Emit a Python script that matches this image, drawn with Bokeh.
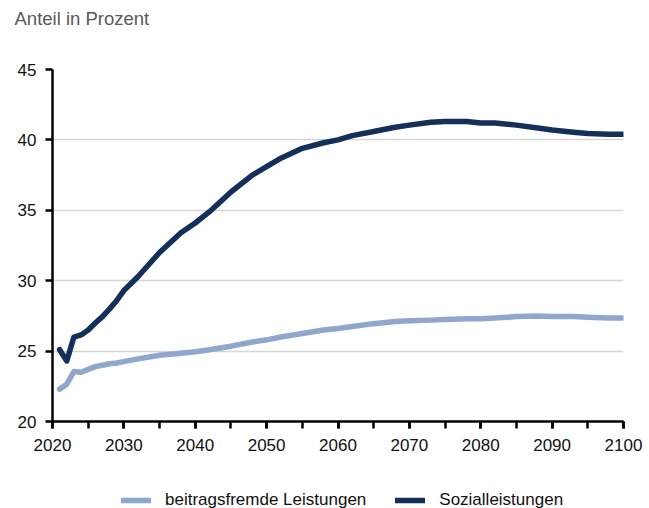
from bokeh.plotting import figure
from bokeh.models import Range1d, Legend, LegendItem, FixedTicker
from bokeh.layouts import column
from bokeh.embed import file_html
from bokeh.resources import INLINE

years = [2021, 2022, 2023, 2024, 2025, 2026, 2027, 2028, 2029, 2030,
         2032, 2035, 2038, 2040, 2042, 2045, 2048, 2050, 2052, 2055, 2058,
         2060, 2062, 2065, 2068, 2070, 2073, 2075, 2078, 2080, 2082, 2085,
         2088, 2090, 2093, 2095, 2098, 2100]

sozialleistungen = [25.1, 24.3, 26.0, 26.15, 26.5, 27.0, 27.45, 28.0, 28.6, 29.3,
                    30.3, 32.0, 33.4, 34.1, 34.9, 36.3, 37.5, 38.1, 38.7, 39.4, 39.8,
                    40.0, 40.3, 40.6, 40.9, 41.05, 41.25, 41.3, 41.3, 41.2, 41.2, 41.05,
                    40.85, 40.7, 40.55, 40.45, 40.4, 40.4]

beitragsfremde = [22.3, 22.65, 23.55, 23.5, 23.7, 23.9, 24.0, 24.1, 24.15, 24.25,
                  24.45, 24.7, 24.85, 24.95, 25.1, 25.35, 25.65, 25.8, 26.0, 26.25, 26.5,
                  26.6, 26.75, 26.95, 27.1, 27.15, 27.2, 27.25, 27.3, 27.3, 27.35, 27.45,
                  27.5, 27.45, 27.45, 27.4, 27.35, 27.35]

series_names = ["beitragsfremde Leistungen", "Sozialleistungen"]
title_text = "Anteil in Prozent"

y_ticks = [20, 25, 30, 35, 40, 45]
x_ticks = [2020, 2030, 2040, 2050, 2060, 2070, 2080, 2090, 2100]
x_minor_ticks = [2020, 2025, 2030, 2035, 2040, 2045, 2050, 2055, 2060, 2065,
                 2070, 2075, 2080, 2085, 2090, 2095, 2100]

FONT = "Liberation Sans"
DARK = "#14305a"
LIGHT = "#8fa7cc"
LW = 5.5
W = 649
X_RANGE = (2020, 2100)
Y_RANGE = (20, 45)


def strip(height, y_range):
    f = figure(width=W, height=height, output_backend="svg", toolbar_location=None,
               x_range=Range1d(*X_RANGE), y_range=Range1d(*y_range),
               x_axis_type=None, y_axis_type=None, min_border=0)
    f.outline_line_color = None
    f.grid.visible = False
    f.background_fill_color = "white"
    f.border_fill_color = "white"
    return f


# ---- title strip ----
top = strip(40, (0, 1))
top.title.text = title_text
top.title.text_font = FONT
top.title.text_font_size = "18.5px"
top.title.text_font_style = "normal"
top.title.text_color = "#595959"
top.title.align = "left"
top.title.offset = -38
top.title.standoff = 11

# ---- main chart ----
p = figure(width=W, height=424, output_backend="svg", toolbar_location=None,
           x_range=Range1d(*X_RANGE), y_range=Range1d(*Y_RANGE),
           min_border_left=52, min_border_right=26, min_border_top=29,
           min_border_bottom=43)
p.outline_line_color = None
p.background_fill_color = "white"
p.border_fill_color = "white"

p.line(years, beitragsfremde, line_color=LIGHT, line_width=LW, line_cap="round", line_join="round")
p.line(years, sozialleistungen, line_color=DARK, line_width=LW, line_cap="round", line_join="round")

p.yaxis.ticker = FixedTicker(ticks=y_ticks)
p.xaxis.ticker = FixedTicker(ticks=x_ticks, minor_ticks=x_minor_ticks)
for ax in (p.xaxis, p.yaxis):
    ax.axis_line_color = "black"
    ax.axis_line_width = 2.5
    ax.major_tick_line_color = "black"
    ax.major_tick_line_width = 2.5
    ax.major_tick_out = 7
    ax.major_tick_in = 0
    ax.major_label_text_font = FONT
    ax.major_label_text_font_size = "17px"
    ax.major_label_text_color = "#111111"
p.xaxis.minor_tick_line_color = "black"
p.xaxis.minor_tick_line_width = 2.5
p.xaxis.minor_tick_out = 7
p.xaxis.minor_tick_in = 0
p.yaxis.minor_tick_line_color = None
p.xaxis.major_label_standoff = 10
p.yaxis.major_label_standoff = 9

p.xgrid.grid_line_color = None
p.ygrid.grid_line_color = "#d6d6d6"
p.ygrid.grid_line_width = 1.5

# ---- legend strip (series drawn off-range, only their legend glyphs show) ----
leg = strip(44, (0, 1))
r1 = leg.line(years, beitragsfremde, line_color=LIGHT, line_width=LW, line_cap="round")
r2 = leg.line(years, sozialleistungen, line_color=DARK, line_width=LW, line_cap="round")
legend = Legend(items=[LegendItem(label=series_names[0], renderers=[r1]),
                       LegendItem(label=series_names[1], renderers=[r2])],
                orientation="horizontal", location=(69, -2),
                label_text_font=FONT, label_text_font_size="17px",
                label_text_color="#111111", glyph_width=30, glyph_height=18,
                label_height=18, spacing=29, label_standoff=14, padding=0, margin=0,
                background_fill_alpha=0, border_line_color=None)
leg.add_layout(legend, "center")

layout = column(top, p, leg, spacing=0)
open("out.html", "w").write(file_html(layout, INLINE))
